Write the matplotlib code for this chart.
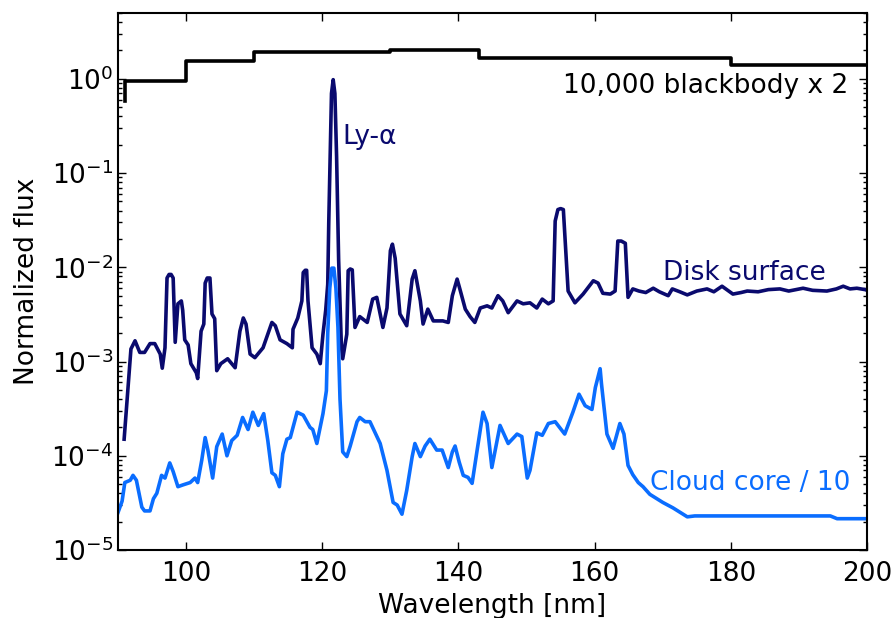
import matplotlib
matplotlib.use('Agg')
import matplotlib.pyplot as plt

# 10,000 K blackbody (x2), step curve
bb_wl = [91.0, 91.0, 100.0, 110.0, 130.0, 143.0, 180.0, 200.0]
bb_flux = [0.58, 0.95, 1.55, 1.95, 2.0, 1.65, 1.41, 1.41]

# disk surface spectrum
disk_wl = [90.9, 91.9, 92.5, 93.2, 93.9, 94.7, 95.4, 96.2, 96.5, 96.9,
           97.2, 97.5, 97.8, 98.1, 98.4, 98.8, 99.3, 99.5, 99.8, 100.3, 100.7,
           101.5, 101.7, 102.2, 102.6, 102.8, 103.1, 103.5, 103.8, 104.2, 104.5, 105.1,
           106.1, 107.2, 107.9, 108.4, 108.8, 109.4, 110.1, 111.3, 112.6, 113.1,
           113.8, 114.8, 115.6, 115.7, 116.4, 117.0, 117.2, 117.5, 117.7, 117.9, 118.5,
           119.2, 119.7, 120.1, 120.5, 120.8, 120.95, 121.15, 121.35, 121.6, 121.85, 122.1,
           122.4, 122.8, 123.0, 123.6, 123.8, 124.1, 124.4, 124.8, 125.5, 126.6, 127.4, 128.0, 128.9,
           129.5, 130.0, 130.3, 130.7, 131.4, 132.4, 133.2, 133.6, 134.4, 134.8, 135.5,
           136.3, 137.7, 138.5, 139.1, 139.8, 140.2, 141.0, 141.7, 142.4, 143.2,
           144.2, 144.9, 145.8, 146.5, 147.3, 148.6, 149.5, 150.5, 151.5, 152.3,
           153.2, 153.9, 154.2, 154.6, 155.0, 155.4, 155.9, 156.1, 157.1, 158.3, 159.8,
           160.5, 161.2, 162.3, 163.0, 163.4, 163.9, 164.5, 164.9, 165.6, 166.5, 167.5,
           168.6, 169.5, 170.8, 171.4, 172.5, 173.6, 175.0, 176.5, 177.5, 178.7,
           180.3, 181.5, 182.4, 184.0, 185.5, 187.2, 188.5, 190.6, 192.0, 194.1,
           195.5, 196.5, 197.5, 198.5, 199.7, 200.0]
disk_flux = [1.5e-4, 1.36e-3, 1.66e-3, 1.25e-3, 1.25e-3, 1.55e-3, 1.55e-3, 1.2e-3, 8.5e-4, 1.4e-3,
             7.7e-3, 8.4e-3, 8.4e-3, 7.7e-3, 1.6e-3, 4.1e-3, 4.4e-3, 3.5e-3, 1.7e-3, 1.5e-3, 9.5e-4,
             7.6e-4, 6.6e-4, 2.1e-3, 2.5e-3, 6.8e-3, 7.7e-3, 7.7e-3, 3.2e-3, 2.85e-3, 8.0e-4, 9.5e-4,
             1.07e-3, 8.6e-4, 2.1e-3, 2.9e-3, 2.5e-3, 1.2e-3, 1.1e-3, 1.4e-3, 2.6e-3, 2.4e-3,
             1.7e-3, 1.55e-3, 1.4e-3, 2.2e-3, 2.9e-3, 4.4e-3, 8.8e-3, 9.3e-3, 9.3e-3, 4.4e-3, 1.4e-3,
             1.2e-3, 9.5e-4, 1.95e-3, 3.5e-3, 6.6e-3, 0.03, 0.14, 0.7, 0.98, 0.7, 0.15,
             0.012, 1.5e-3, 1.07e-3, 1.95e-3, 9.2e-3, 9.6e-3, 9.4e-3, 2.3e-3, 3.0e-3, 2.6e-3, 4.6e-3, 4.8e-3, 2.3e-3,
             3.7e-3, 1.5e-2, 1.76e-2, 1.25e-2, 3.2e-3, 2.4e-3, 7.5e-3, 9.2e-3, 4.4e-3, 2.5e-3, 3.6e-3,
             2.7e-3, 2.7e-3, 2.6e-3, 5.0e-3, 7.5e-3, 5.9e-3, 3.6e-3, 3.0e-3, 2.6e-3, 3.7e-3,
             3.9e-3, 3.7e-3, 5.0e-3, 4.4e-3, 3.3e-3, 4.4e-3, 4.1e-3, 4.2e-3, 3.7e-3, 4.6e-3,
             4.1e-3, 4.4e-3, 3.1e-2, 4.1e-2, 4.2e-2, 4.1e-2, 1.0e-2, 5.6e-3, 4.2e-3, 5.2e-3, 7.2e-3,
             6.8e-3, 5.3e-3, 5.2e-3, 5.6e-3, 1.9e-2, 1.9e-2, 1.8e-2, 4.8e-3, 5.9e-3, 5.6e-3, 5.4e-3,
             6.0e-3, 5.5e-3, 5.0e-3, 5.9e-3, 5.5e-3, 5.1e-3, 5.6e-3, 5.9e-3, 5.5e-3, 6.3e-3,
             5.2e-3, 5.4e-3, 5.6e-3, 5.5e-3, 5.8e-3, 5.9e-3, 5.6e-3, 6.0e-3, 5.7e-3, 5.6e-3,
             5.9e-3, 6.3e-3, 5.9e-3, 6.0e-3, 5.8e-3, 5.7e-3]

# cloud core spectrum (/10)
core_wl = [90.0, 90.6, 91.0, 91.8, 92.2, 92.7, 93.5, 93.9, 94.7, 95.2,
           95.7, 96.4, 96.9, 97.6, 98.1, 98.8, 99.5, 100.6, 101.3, 101.7,
           102.3, 102.8, 103.2, 103.9, 104.5, 105.3, 106.0, 106.7, 107.5, 108.3,
           109.1, 109.8, 110.6, 111.4, 112.0, 112.6, 113.1, 113.7, 114.2, 114.8,
           115.3, 116.3, 117.2, 118.2, 118.6, 119.2, 120.1, 120.6, 120.8, 121.1, 121.4,
           121.7, 122.0, 122.3, 122.6, 123.0, 123.6, 124.1, 125.1, 125.5, 126.3, 127.0,
           128.5, 129.5, 130.4, 131.0, 131.7, 132.4, 133.2, 133.6, 134.4, 135.1,
           135.8, 136.8, 137.6, 138.5, 139.1, 139.5, 140.1, 140.7, 141.4, 142.0,
           142.7, 143.6, 144.2, 144.9, 146.1, 147.3, 148.6, 149.3, 150.1, 150.5,
           151.5, 152.3, 153.2, 154.2, 155.6, 156.8, 157.7, 158.6, 159.6, 160.1,
           160.8, 161.0, 161.8, 162.7, 163.7, 164.3, 164.9, 165.6, 166.4, 167.1,
           168.1, 170.0, 171.5, 173.6, 174.7, 194.6, 195.6, 200.0]
core_flux = [2.5e-5, 3.3e-5, 5.2e-5, 5.5e-5, 6.2e-5, 5.5e-5, 2.85e-5, 2.6e-5, 2.6e-5, 3.5e-5,
             4.0e-5, 6.2e-5, 5.8e-5, 8.4e-5, 6.8e-5, 4.7e-5, 4.9e-5, 5.2e-5, 5.8e-5, 5.2e-5,
             9.0e-5, 1.56e-4, 1.15e-4, 5.8e-5, 1.25e-4, 1.7e-4, 1.0e-4, 1.45e-4, 1.65e-4, 2.55e-4,
             1.9e-4, 2.9e-4, 2.1e-4, 2.8e-4, 1.45e-4, 6.6e-5, 6.2e-5, 4.7e-5, 1.05e-4, 1.5e-4,
             1.56e-4, 2.9e-4, 2.7e-4, 2.0e-4, 1.9e-4, 1.35e-4, 2.8e-4, 4.9e-4, 2.0e-3, 6.0e-3, 9.8e-3,
             9.8e-3, 6.0e-3, 2.3e-3, 4.0e-4, 1.1e-4, 9.8e-5, 1.27e-4, 2.3e-4, 2.55e-4, 2.3e-4, 2.3e-4,
             1.35e-4, 7.0e-5, 3.2e-5, 3.0e-5, 2.4e-5, 4.3e-5, 9.8e-5, 1.35e-4, 9.8e-5, 1.27e-4,
             1.5e-4, 1.15e-4, 1.15e-4, 7.5e-5, 1.1e-4, 1.27e-4, 8.6e-5, 6.2e-5, 5.9e-5, 5.1e-5,
             1.1e-4, 2.9e-4, 2.2e-4, 7.5e-5, 2.1e-4, 1.35e-4, 1.7e-4, 1.6e-4, 5.8e-5, 7.0e-5,
             1.75e-4, 1.65e-4, 2.2e-4, 2.3e-4, 1.7e-4, 2.9e-4, 4.5e-4, 3.4e-4, 3.1e-4, 5.3e-4,
             8.4e-4, 5.8e-4, 1.7e-4, 1.2e-4, 2.2e-4, 1.7e-4, 7.9e-5, 6.3e-5, 5.2e-5, 4.7e-5,
             3.9e-5, 3.2e-5, 2.8e-5, 2.25e-5, 2.3e-5, 2.3e-5, 2.15e-5, 2.15e-5]

navy = '#0a0a6e'
azul = '#0a6dff'
fs = 19

fig = plt.figure(figsize=(8.96, 6.18), dpi=100)
ax = fig.add_axes([0.1317, 0.110, 0.836, 0.869])

ax.plot(bb_wl, bb_flux, color='black', lw=2.6, drawstyle='steps-post')
ax.plot(disk_wl, disk_flux, color=navy, lw=2.6, solid_joinstyle='round')
ax.plot(core_wl, core_flux, color=azul, lw=2.6, solid_joinstyle='round')

ax.set_yscale('log')
ax.set_xlim(90, 200)
ax.set_ylim(1e-5, 5)
ax.set_xticks([100, 120, 140, 160, 180, 200])

# textos
ax.text(197.2, 0.84, '10,000 blackbody x 2', color='black', fontsize=fs,
        ha='right', va='center')
ax.text(123.0, 0.244, 'Ly-α', color=navy, fontsize=fs, ha='left', va='center')
ax.text(170.0, 8.7e-3, 'Disk surface', color=navy, fontsize=fs, ha='left', va='center')
ax.text(168.1, 5.1e-5, 'Cloud core / 10', color=azul, fontsize=fs, ha='left', va='center')

ax.set_xlabel('Wavelength [nm]', fontsize=fs, labelpad=4)
ax.set_ylabel('Normalized flux', fontsize=fs, labelpad=8)

ax.tick_params(which='both', direction='in', top=True, right=True, labelsize=fs)
ax.tick_params(which='major', length=6, width=1)
ax.tick_params(which='minor', length=3, width=1)
ax.tick_params(axis='x', pad=8)
for s in ax.spines.values():
    s.set_linewidth(1.5)

fig.savefig('out.png', dpi=100)
